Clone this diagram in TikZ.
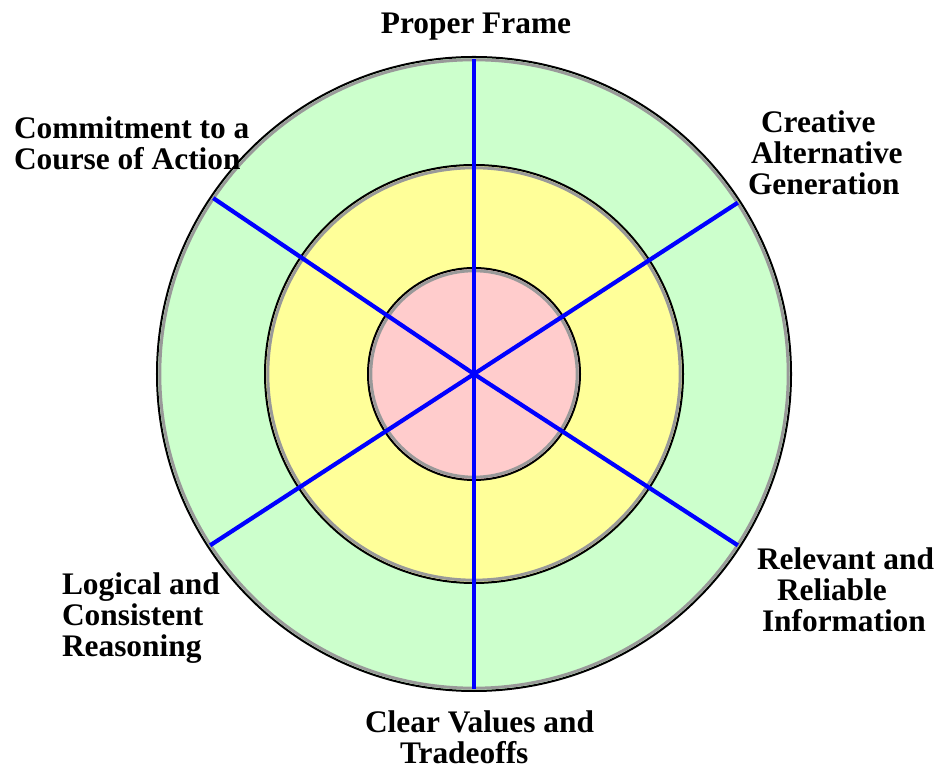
\documentclass[tikz,border=0pt]{standalone}
\usepackage{fontspec}
\setmainfont{Liberation Serif}
\begin{document}
\begin{tikzpicture}[x=1bp,y=1bp,
  ring/.style={circle,draw=black,line width=2bp,inner sep=0pt,outer sep=0pt},
  shade ring/.style={draw=black!40,line width=3bp},
  spoke/.style={draw=spokeblue,line width=4.2bp,shorten >=2.5bp},
  label/.style={font=\bfseries\fontsize{31.5}{31.5}\selectfont,inner sep=0pt,outer sep=0pt}]
\definecolor{ringgreen}{HTML}{CCFFCC}
\definecolor{ringyellow}{HTML}{FFFF99}
\definecolor{ringpink}{HTML}{FFCCCC}
\definecolor{spokeblue}{HTML}{0000FF}
\useasboundingbox (0,0) rectangle (939,769);

% concentric rings, outside in
\node[ring,fill=ringgreen,minimum size=634bp] (outer) at (474,395) {};
\draw[shade ring] (outer.center) circle (314.2);
\node[ring,fill=ringyellow,minimum size=418bp] (middle) at (outer.center) {};
\draw[shade ring] (middle.center) circle (206.2);
\node[ring,fill=ringpink,minimum size=212bp] (inner) at (outer.center) {};
\draw[shade ring] (inner.center) circle (103.2);

% six spokes from the centre to the outer rim
\foreach \a in {90,33.6,-33.6,-90,213.6,146.4}
  \draw[spoke] (outer.center) -- (outer.\a);

% labels round the wheel (base = baseline of the last line)
\node[label,anchor=base] (frame) at (476,735) {Proper Frame};
\node[label,anchor=base west,align=left] (commit) at (14,599)
  {Commitment to a\\Course of Action};
\node[label,anchor=base west,align=left] (creative) at (748,574)
  {\hspace{13bp}Creative\\\hspace{3bp}Alternative\\Generation};
\node[label,anchor=base west,align=left] (relevant) at (757,137)
  {Relevant and\\\hspace{20bp}Reliable\\\hspace{5bp}Information};
\node[label,anchor=base west,align=left] (logical) at (62,112)
  {Logical and\\Consistent\\Reasoning};
\node[label,anchor=base west,align=left] (clear) at (365,5)
  {Clear Values and\\\hspace{35bp}Tradeoffs};
\end{tikzpicture}
\end{document}
